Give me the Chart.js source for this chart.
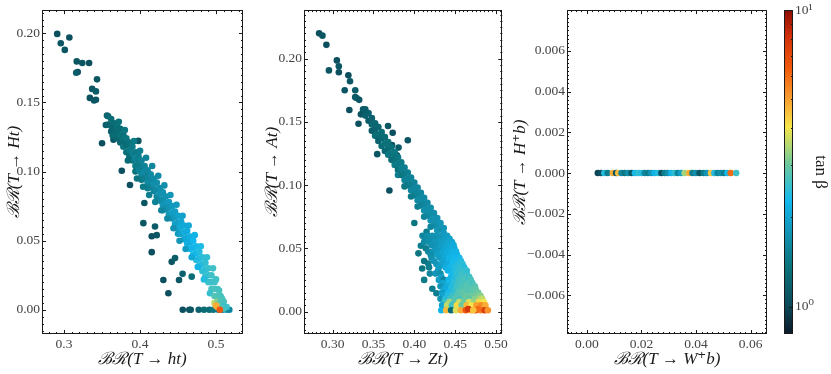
<!DOCTYPE html>
<html>
<head>
<meta charset="utf-8">
<script src="https://cdn.jsdelivr.net/npm/chart.js@4.4.1/dist/chart.umd.min.js"></script>
<style>
  body { margin: 0; background: #fff; }
  #wrap { position: relative; width: 831px; height: 374px; overflow: hidden; background: #fff; }
  canvas { position: absolute; top: 0; }
</style>
</head>
<body>
<div id="wrap">
  <canvas id="brHt" width="250" height="374" style="left:0"></canvas>
  <canvas id="brAt" width="252" height="374" style="left:258px"></canvas>
  <canvas id="brHc" width="266" height="374" style="left:506px"></canvas>
  <canvas id="cbar" width="56" height="374" style="left:775px"></canvas>
</div>
<script>
// each point: [BR on x axis, BR on y axis, tan beta]
const pointsHt = [
  [0.291,0.1996,1.05],[0.2957,0.1928,1.1],[0.307,0.197,1.05],[0.301,0.188,1.1],[0.3167,0.1797,1.1],
  [0.318,0.172,1.05],[0.316,0.1715,1.15],[0.324,0.1785,1.1],[0.333,0.1785,1.05],[0.3434,0.1667,1.1],
  [0.337,0.1598,1.1],[0.334,0.1533,1.05],[0.3395,0.1514,1.1],[0.342,0.158,1.15],[0.342,0.152,1.1],
  [0.35,0.1205,1.05],[0.355,0.1337,1.15],[0.3565,0.1406,1.2],[0.376,0.1006,1.05],[0.3978,0.1222,1.1],
  [0.3868,0.0903,1.05],[0.365,0.123,1.1],
  [0.4057,0.0773,1.1],[0.4044,0.0627,1.1],[0.4154,0.0532,1.05],[0.4154,0.0417,1.05],[0.4197,0.0603,1.15],
  [0.422,0.054,1.1],[0.4307,0.0216,1.05],[0.4373,0.012,1.05],[0.4417,0.0347,1.1],[0.4461,0.0374,1.15],
  [0.4513,0.0216,1.1],[0.456,0.026,1.2],[0.468,0.024,1.3],
  [0.4562,0,1.05],[0.4649,0,1.05],[0.4667,0,1.1],[0.4772,0,1.2],[0.4842,0,1.3],[0.4912,0,1.3],
  [0.4964,0,1.4],[0.503,0,1.5],[0.5088,0,1.6],[0.5141,0,1.8],[0.5175,0,1.6],
  [0.358,0.140,1.25],[0.358,0.134,1.2],
  [0.362,0.138,1.3],[0.362,0.133,1.25],[0.362,0.129,1.2],
  [0.366,0.135,1.3],[0.366,0.131,1.25],
  [0.370,0.133,1.35],[0.370,0.128,1.3],[0.370,0.124,1.25],
  [0.374,0.131,1.3],[0.374,0.126,1.35],[0.374,0.121,1.25],
  [0.378,0.127,1.35],[0.378,0.122,1.3],[0.378,0.118,1.4],
  [0.382,0.124,1.4],[0.382,0.119,1.3],[0.382,0.114,1.35],
  [0.386,0.121,1.35],[0.386,0.116,1.45],[0.386,0.111,1.3],
  [0.390,0.118,1.45],[0.390,0.113,1.5],[0.390,0.108,1.4],
  [0.394,0.114,1.45],[0.394,0.109,1.55],[0.394,0.104,1.45],[0.394,0.100,1.35],
  [0.398,0.111,1.5],[0.398,0.106,1.45],[0.398,0.101,1.55],
  [0.402,0.108,1.55],[0.402,0.103,1.5],[0.402,0.098,1.6],[0.402,0.094,1.45],
  [0.406,0.104,1.55],[0.406,0.100,1.65],[0.406,0.095,1.5],
  [0.410,0.101,1.6],[0.410,0.097,1.55],[0.410,0.092,1.65],[0.410,0.088,1.5],
  [0.414,0.098,1.65],[0.414,0.094,1.6],[0.414,0.089,1.55],
  [0.418,0.095,1.65],[0.418,0.091,1.7],[0.418,0.086,1.6],
  [0.422,0.092,1.7],[0.422,0.087,1.65],[0.422,0.082,1.6],
  [0.426,0.088,1.7],[0.426,0.084,1.75],[0.426,0.079,1.65],
  [0.430,0.085,1.75],[0.430,0.080,1.7],[0.430,0.076,1.8],[0.430,0.072,1.65],
  [0.434,0.082,1.75],[0.434,0.077,1.8],[0.434,0.073,1.7],
  [0.438,0.078,1.85],[0.438,0.074,1.75],[0.438,0.069,1.8],
  [0.442,0.075,1.85],[0.442,0.070,1.9],[0.442,0.066,1.8],
  [0.446,0.071,1.9],[0.446,0.067,1.85],[0.446,0.062,1.95],
  [0.450,0.068,1.95],[0.450,0.063,1.9],[0.450,0.059,2.0],[0.450,0.055,1.85],
  [0.454,0.064,2.0],[0.454,0.060,2.05],[0.454,0.055,1.95],
  [0.458,0.061,2.05],[0.458,0.056,2.1],[0.458,0.051,2.0],
  [0.462,0.057,2.1],[0.462,0.052,2.05],[0.462,0.048,2.15],
  [0.466,0.053,2.15],[0.466,0.049,2.1],[0.466,0.044,2.25],
  [0.470,0.050,2.25],[0.470,0.045,2.2],[0.470,0.040,2.3],
  [0.474,0.046,2.3],[0.474,0.041,2.25],[0.474,0.036,2.4],
  [0.478,0.042,2.4],[0.478,0.037,2.35],[0.478,0.032,2.45],
  [0.482,0.038,2.45],[0.482,0.033,2.4],[0.482,0.028,2.5],
  [0.486,0.034,2.5],[0.486,0.029,2.45],[0.486,0.024,2.55],
  [0.490,0.030,2.55],[0.490,0.025,2.5],[0.490,0.020,2.6],
  [0.494,0.025,2.6],[0.494,0.020,2.55],[0.494,0.015,2.65],
  [0.364,0.126,1.3],[0.372,0.136,1.35],[0.380,0.130,1.4],[0.384,0.108,1.3],[0.392,0.122,1.45],
  [0.396,0.095,1.4],[0.400,0.115,1.5],[0.404,0.089,1.45],[0.408,0.110,1.55],[0.412,0.083,1.5],
  [0.416,0.104,1.6],[0.420,0.078,1.55],[0.424,0.097,1.65],[0.428,0.072,1.6],[0.432,0.090,1.7],
  [0.436,0.066,1.65],[0.440,0.083,1.8],[0.444,0.059,1.75],[0.448,0.076,1.85],[0.452,0.050,1.8],
  [0.456,0.068,1.95],[0.460,0.044,1.9],[0.464,0.061,2.05],[0.468,0.038,2.05],[0.472,0.054,2.2],
  [0.476,0.031,2.2],[0.480,0.046,2.35],[0.484,0.022,2.4],[0.488,0.038,2.5],[0.492,0.012,2.55],
  [0.496,0.030,2.6],[0.500,0.022,2.6],[0.504,0.014,2.7],[0.508,0.008,2.7],
  [0.498,0.020,2.6],[0.498,0.015,2.7],[0.498,0.010,2.8],[0.498,0.005,3.6],
  [0.502,0.015,2.65],[0.502,0.010,2.75],[0.502,0.006,3.2],[0.502,0.002,4.6],
  [0.506,0.010,2.7],[0.506,0.006,2.8],[0.506,0.003,3.0],
  [0.510,0.006,2.7],[0.510,0.003,2.6],[0.510,0.001,2.8],
  [0.514,0.002,2.6],[0.500,0.003,4.8],[0.505,0.0,6.5]
];

const pointsAt = [
  [0.2835,0.2201,1.05],[0.2876,0.2183,1.1],[0.2924,0.211,1.05],[0.3052,0.1987,1.05],[0.3076,0.194,1.1],
  [0.3076,0.1893,1.05],[0.2955,0.1908,1.1],[0.3193,0.1869,1.05],[0.3213,0.1822,1.1],[0.3148,0.1751,1.1],
  [0.3277,0.1751,1.15],[0.3277,0.1696,1.1],[0.3293,0.169,1.15],[0.3325,0.1675,1.1],[0.3205,0.1594,1.05],
  [0.3373,0.16,1.1],[0.3373,0.158,1.15],[0.3346,0.156,1.1],[0.3317,0.1486,1.05],[0.3678,0.1468,1.1],
  [0.3735,0.1415,1.05],[0.3727,0.1318,1.1],[0.3695,0.0957,1.05],[0.392,0.1355,1.1],[0.3807,0.1297,1.15],
  [0.3787,0.1237,1.1],[0.3546,0.1245,1.1],
  [0.340,0.160,1.15],[0.340,0.155,1.2],
  [0.344,0.157,1.2],[0.344,0.151,1.15],
  [0.348,0.153,1.2],[0.348,0.148,1.25],[0.348,0.143,1.15],
  [0.352,0.149,1.25],[0.352,0.144,1.2],[0.352,0.139,1.3],
  [0.356,0.146,1.25],[0.356,0.140,1.3],[0.356,0.135,1.2],
  [0.360,0.142,1.3],[0.360,0.137,1.25],[0.360,0.131,1.3],
  [0.364,0.138,1.3],[0.364,0.133,1.35],[0.364,0.127,1.25],
  [0.368,0.134,1.35],[0.368,0.129,1.3],[0.368,0.124,1.4],
  [0.372,0.130,1.35],[0.372,0.125,1.4],[0.372,0.120,1.3],
  [0.376,0.126,1.4],[0.376,0.121,1.35],[0.376,0.116,1.45],
  [0.380,0.122,1.4],[0.380,0.117,1.45],[0.380,0.112,1.35],[0.380,0.108,1.5],
  [0.384,0.118,1.45],[0.384,0.113,1.5],[0.384,0.108,1.4],
  [0.388,0.114,1.5],[0.388,0.109,1.45],[0.388,0.104,1.55],[0.388,0.099,1.4],
  [0.392,0.110,1.5],[0.392,0.105,1.55],[0.392,0.100,1.45],
  [0.396,0.106,1.55],[0.396,0.101,1.5],[0.396,0.096,1.6],[0.396,0.091,1.45],
  [0.400,0.102,1.55],[0.400,0.097,1.6],[0.400,0.092,1.5],
  [0.404,0.098,1.6],[0.404,0.093,1.55],[0.404,0.088,1.65],[0.404,0.083,1.5],
  [0.408,0.094,1.6],[0.408,0.089,1.65],[0.408,0.084,1.55],
  [0.412,0.090,1.65],[0.412,0.085,1.6],[0.412,0.080,1.7],[0.412,0.075,1.55],
  [0.416,0.086,1.65],[0.416,0.081,1.7],[0.416,0.076,1.6],
  [0.420,0.082,1.7],[0.420,0.077,1.65],[0.420,0.072,1.75],[0.420,0.067,1.6],
  [0.424,0.078,1.7],[0.424,0.073,1.75],[0.424,0.068,1.65],
  [0.428,0.074,1.75],[0.428,0.069,1.7],[0.428,0.064,1.8],
  [0.432,0.070,1.8],[0.432,0.065,1.75],
  [0.436,0.066,1.8],[0.436,0.062,1.85],
  [0.4096,0.034,1.4],[0.4169,0.038,1.5],[0.412,0.025,1.45],[0.427,0.0145,1.5],[0.405,0.046,1.4],
  [0.408,0.052,1.5],[0.419,0.030,1.6],[0.422,0.018,1.5],[0.400,0.070,1.4],[0.415,0.063,1.5],
  [0.410,0.060,1.6],[0.416,0.060,1.7],[0.422,0.060,1.75],[0.428,0.060,1.8],[0.434,0.060,1.85],[0.440,0.060,1.9],
  [0.413,0.0575,1.65],[0.419,0.0575,1.7],[0.425,0.0575,1.75],[0.431,0.0575,1.8],[0.437,0.0575,1.9],[0.443,0.0575,1.95],
  [0.412,0.055,1.65],[0.418,0.055,1.7],[0.424,0.055,1.8],[0.430,0.055,1.85],[0.436,0.055,1.9],[0.442,0.055,2.0],[0.446,0.055,2.0],
  [0.421,0.0525,1.75],[0.427,0.0525,1.8],[0.433,0.0525,1.9],[0.439,0.0525,2.0],[0.445,0.0525,2.05],[0.448,0.0525,2.1],
  [0.414,0.050,1.5],[0.426,0.050,1.8],[0.432,0.050,1.9],[0.438,0.050,2.0],[0.444,0.050,2.1],[0.449,0.050,2.1],
  [0.417,0.0475,1.6],[0.423,0.0475,1.8],[0.429,0.0475,1.85],[0.435,0.0475,2.0],[0.441,0.0475,2.1],[0.447,0.0475,2.15],[0.451,0.0475,2.2],
  [0.420,0.045,1.7],[0.428,0.045,1.9],[0.434,0.045,2.0],[0.440,0.045,2.1],[0.446,0.045,2.2],[0.452,0.045,2.2],
  [0.421,0.0425,1.7],[0.431,0.0425,1.9],[0.437,0.0425,2.05],[0.443,0.0425,2.2],[0.449,0.0425,2.25],[0.455,0.0425,2.3],
  [0.412,0.040,1.4],[0.424,0.040,1.8],[0.436,0.040,2.0],[0.442,0.040,2.2],[0.448,0.040,2.3],[0.454,0.040,2.3],[0.457,0.040,2.4],
  [0.427,0.0375,1.8],[0.433,0.0375,1.95],[0.441,0.0375,2.1],[0.447,0.0375,2.3],[0.453,0.0375,2.4],[0.459,0.0375,2.45],
  [0.418,0.035,1.5],[0.430,0.035,1.9],[0.438,0.035,2.1],[0.444,0.035,2.3],[0.450,0.035,2.4],[0.456,0.035,2.5],[0.461,0.035,2.4],
  [0.429,0.0325,1.85],[0.441,0.0325,2.2],[0.449,0.0325,2.4],[0.455,0.0325,2.5],[0.461,0.0325,2.55],[0.464,0.0325,2.5],
  [0.426,0.030,1.8],[0.432,0.030,1.7],[0.446,0.030,2.3],[0.452,0.030,2.5],[0.458,0.030,2.6],[0.464,0.030,2.5],
  [0.433,0.0275,1.9],[0.445,0.0275,2.3],[0.451,0.0275,2.45],[0.457,0.0275,2.6],[0.463,0.0275,2.65],[0.467,0.0275,2.6],
  [0.430,0.025,1.9],[0.436,0.025,1.6],[0.442,0.025,2.2],[0.448,0.025,2.4],[0.454,0.025,2.6],[0.460,0.025,2.7],[0.466,0.025,2.6],[0.469,0.025,2.7],
  [0.435,0.0225,2.0],[0.443,0.0225,2.3],[0.449,0.0225,2.5],[0.455,0.0225,2.65],[0.461,0.0225,2.7],[0.467,0.0225,2.75],[0.471,0.0225,2.7],
  [0.432,0.020,1.8],[0.440,0.020,2.1],[0.446,0.020,2.4],[0.452,0.020,2.6],[0.458,0.020,2.7],[0.464,0.020,2.8],[0.470,0.020,2.7],[0.474,0.020,2.8],
  [0.437,0.0175,2.1],[0.445,0.0175,2.4],[0.451,0.0175,2.6],[0.457,0.0175,2.75],[0.463,0.0175,2.8],[0.469,0.0175,2.85],[0.475,0.0175,2.9],
  [0.434,0.015,1.9],[0.442,0.015,2.3],[0.448,0.015,2.5],[0.454,0.015,2.8],[0.460,0.015,2.9],[0.466,0.015,2.8],[0.472,0.015,2.9],[0.478,0.015,3.0],
  [0.435,0.0125,2.0],[0.441,0.0125,2.4],[0.447,0.0125,2.6],[0.453,0.0125,2.8],[0.459,0.0125,2.9],[0.465,0.0125,3.0],[0.471,0.0125,3.0],[0.477,0.0125,3.1],[0.481,0.0125,3.2],
  [0.432,0.010,1.8],[0.438,0.010,2.4],[0.444,0.010,2.6],[0.450,0.010,2.8],[0.456,0.010,2.7],[0.462,0.010,3.0],[0.468,0.010,2.9],[0.474,0.010,3.2],[0.480,0.010,3.4],[0.483,0.010,3.6],
  [0.437,0.0075,2.6],[0.443,0.0075,3.4],[0.449,0.0075,2.8],[0.455,0.0075,3.6],[0.461,0.0075,3.0],[0.467,0.0075,3.8],[0.473,0.0075,3.3],[0.479,0.0075,4.2],[0.485,0.0075,4.0],
  [0.434,0.005,2.0],[0.440,0.005,3.6],[0.446,0.005,2.6],[0.452,0.005,4.2],[0.458,0.005,3.0],[0.464,0.005,4.6],[0.470,0.005,4.0],[0.476,0.005,5.0],[0.482,0.005,5.4],[0.487,0.005,4.8],
  [0.433,0.001,2.2],[0.439,0.001,4.6],[0.445,0.001,1.3],[0.451,0.001,3.8],[0.457,0.001,4.8],[0.463,0.001,6.5],[0.469,0.001,5.0],[0.475,0.001,7.0],[0.481,0.001,5.5],[0.486,0.001,7.5],[0.490,0.001,5.2],
  [0.466,0.002,8.0],[0.478,0.002,6.0],[0.472,0.001,4.5]
];

const pointsHc = [
  [0.0040,0,1.0],[0.0052,0,1.05],[0.0064,0,2.4],[0.0076,0,1.5],[0.0095,0,4.8],[0.0107,0,1.1],
  [0.0115,0,4.6],[0.0127,0,1.6],[0.0139,0,1.4],[0.0151,0,1.7],[0.0164,0,1.1],[0.0176,0,2.3],
  [0.0188,0,2.5],[0.0200,0,2.4],[0.0212,0,1.6],[0.0224,0,1.5],[0.0236,0,1.8],[0.0248,0,2.2],
  [0.0261,0,2.4],[0.0273,0,1.05],[0.0285,0,1.5],[0.0297,0,1.7],[0.0309,0,2.2],[0.0321,0,2.5],
  [0.0333,0,1.6],[0.0345,0,1.9],[0.0358,0,3.4],[0.0375,0,4.8],[0.0387,0,1.5],[0.0399,0,1.7],
  [0.0413,0,1.1],[0.0428,0,1.5],[0.0440,0,1.8],[0.0455,0,4.5],[0.0467,0,2.4],[0.0479,0,1.6],
  [0.0491,0,1.7],[0.0503,0,1.5],[0.0515,0,2.3],[0.0527,0,6.0],[0.0547,0,2.6]
];

const ticksHtX = [0.3, 0.4, 0.5];
const ticksHtY = [0, 0.05, 0.10, 0.15, 0.20];
const ticksAtX = [0.30, 0.35, 0.40, 0.45, 0.50];
const ticksAtY = [0, 0.05, 0.10, 0.15, 0.20];
const ticksHcX = [0, 0.02, 0.04, 0.06];
const ticksHcY = [-0.006, -0.004, -0.002, 0, 0.002, 0.004, 0.006];
const tanbRange = [0.808, 10];
const tanbTicks = [1, 10];
const tanbLabels = ['10⁰', '10¹'];

const cmapStops = [
  [0.00, '#0b1a29'], [0.10, '#0c4e5e'], [0.21, '#0a737b'], [0.31, '#1292b2'],
  [0.41, '#12b8ee'], [0.525, '#6ec89c'], [0.64, '#f7e64a'], [0.72, '#f8a232'],
  [0.82, '#f05a0c'], [0.92, '#d0300a'], [1.00, '#8c0c02']
];

const SERIF = "'Liberation Serif', 'DejaVu Serif', serif";
const INK = '#1a1a1a';

function rgb(hex) {
  return [1, 3, 5].map(i => parseInt(hex.slice(i, i + 2), 16));
}

function cmap(t) {
  const lo = Math.log10(tanbRange[0]), hi = Math.log10(tanbRange[1]);
  const f = Math.min(1, Math.max(0, (Math.log10(t) - lo) / (hi - lo)));
  for (let i = 1; i < cmapStops.length; i++) {
    if (f <= cmapStops[i][0]) {
      const [f0, c0] = cmapStops[i - 1], [f1, c1] = cmapStops[i];
      const k = (f - f0) / (f1 - f0);
      const a = rgb(c0), b = rgb(c1);
      return 'rgb(' + a.map((v, j) => Math.round(v + (b[j] - v) * k)).join(',') + ')';
    }
  }
  return cmapStops[cmapStops.length - 1][1];
}

function fmt(v, digits) {
  return v.toFixed(digits).replace('-', '\u2212');
}

function minorValues(min, max, step) {
  const out = [];
  for (let k = Math.ceil(min / step - 1e-9); k * step <= max + 1e-12; k++) out.push(k * step);
  return out;
}

// matplotlib style: frame plus inward ticks on all four sides
const frameTicks = {
  id: 'frameTicks',
  afterDraw(chart, args, o) {
    const { ctx, chartArea: a } = chart;
    const sx = chart.scales.x, sy = chart.scales.y;
    ctx.save();
    ctx.strokeStyle = INK;
    ctx.lineWidth = 1;
    ctx.beginPath();
    const xMark = (v, len) => {
      const p = Math.round(sx.getPixelForValue(v)) + 0.5;
      if (p < a.left || p > a.right) return;
      ctx.moveTo(p, a.bottom); ctx.lineTo(p, a.bottom - len);
      ctx.moveTo(p, a.top); ctx.lineTo(p, a.top + len);
    };
    const yMark = (v, len) => {
      const p = Math.round(sy.getPixelForValue(v)) + 0.5;
      if (p < a.top || p > a.bottom) return;
      ctx.moveTo(a.left, p); ctx.lineTo(a.left + len, p);
      ctx.moveTo(a.right, p); ctx.lineTo(a.right - len, p);
    };
    minorValues(sx.min, sx.max, o.xMinor).forEach(v => xMark(v, 2));
    minorValues(sy.min, sy.max, o.yMinor).forEach(v => yMark(v, 2));
    o.xMajor.forEach(v => xMark(v, 4));
    o.yMajor.forEach(v => yMark(v, 4));
    ctx.stroke();
    ctx.strokeRect(Math.round(a.left) + 0.5, Math.round(a.top) + 0.5,
      Math.round(a.right - a.left) - 1, Math.round(a.bottom - a.top) - 1);
    ctx.restore();
  }
};

function makePanel(id, points, cfg) {
  return new Chart(document.getElementById(id), {
    type: 'scatter',
    data: {
      datasets: [{
        data: points.map(p => ({ x: p[0], y: p[1] })),
        pointBackgroundColor: points.map(p => cmap(p[2])),
        pointBorderWidth: 0,
        pointRadius: 3.3,
        pointHoverRadius: 3.3
      }]
    },
    options: {
      responsive: false,
      animation: false,
      events: [],
      layout: { padding: { top: 8, right: cfg.padRight, bottom: 0, left: 0 } },
      plugins: {
        legend: { display: false },
        tooltip: { enabled: false },
        frameTicks: { xMajor: cfg.xTicks, yMajor: cfg.yTicks, xMinor: cfg.xMinor, yMinor: cfg.yMinor }
      },
      scales: {
        x: {
          type: 'linear', min: cfg.xRange[0], max: cfg.xRange[1],
          afterBuildTicks: s => { s.ticks = cfg.xTicks.map(v => ({ value: v })); },
          afterFit: s => { s.height = 40; },
          grid: { display: false, drawTicks: false }, border: { display: false },
          ticks: { autoSkip: false, maxRotation: 0, padding: 2, color: '#444',
                   font: { family: SERIF, size: 13.5 }, callback: v => fmt(v, cfg.xDigits) },
          title: { display: true, text: cfg.xTitle, color: INK, padding: { top: 4, bottom: 4 },
                   font: { family: SERIF, size: 17, style: 'italic' } }
        },
        y: {
          type: 'linear', min: cfg.yRange[0], max: cfg.yRange[1],
          afterBuildTicks: s => { s.ticks = cfg.yTicks.map(v => ({ value: v })); },
          afterFit: s => { s.width = cfg.yWidth; },
          grid: { display: false, drawTicks: false }, border: { display: false },
          ticks: { autoSkip: false, padding: 2, color: '#444',
                   font: { family: SERIF, size: 13.5 }, callback: v => fmt(v, cfg.yDigits) },
          title: { display: true, text: cfg.yTitle, color: INK, padding: { top: 4, bottom: 4 },
                   font: { family: SERIF, size: 17, style: 'italic' } }
        }
      }
    },
    plugins: [frameTicks]
  });
}

makePanel('brHt', pointsHt, {
  xRange: [0.271, 0.5355], yRange: [-0.0175, 0.2168],
  xTicks: ticksHtX, yTicks: ticksHtY, xMinor: 0.01, yMinor: 0.005,
  xDigits: 1, yDigits: 2, yWidth: 42, padRight: 7,
  xTitle: 'ℬℛ(T → ht)', yTitle: 'ℬℛ(T → Ht)'
});

makePanel('brAt', pointsAt, {
  xRange: [0.265, 0.5076], yRange: [-0.0178, 0.2385],
  xTicks: ticksAtX, yTicks: ticksAtY, xMinor: 0.005, yMinor: 0.005,
  xDigits: 2, yDigits: 2, yWidth: 46, padRight: 4,
  xTitle: 'ℬℛ(T → Zt)', yTitle: 'ℬℛ(T → At)'
});

makePanel('brHc', pointsHc, {
  xRange: [-0.0073, 0.066], yRange: [-0.0079, 0.0080],
  xTicks: ticksHcX, yTicks: ticksHcY, xMinor: 0.002, yMinor: 0.0002,
  xDigits: 2, yDigits: 3, yWidth: 61, padRight: 5,
  xTitle: 'ℬℛ(T → W⁺b)', yTitle: 'ℬℛ(T → H⁺b)'
});

// colour bar: gradient in the chart area, log axis on the right
const colorbarFill = {
  id: 'colorbarFill',
  beforeDatasetsDraw(chart) {
    const { ctx, chartArea: a } = chart;
    const g = ctx.createLinearGradient(0, a.bottom, 0, a.top);
    cmapStops.forEach(s => g.addColorStop(s[0], s[1]));
    ctx.save();
    ctx.fillStyle = g;
    ctx.fillRect(a.left, a.top, a.right - a.left, a.bottom - a.top);
    const sy = chart.scales.y;
    ctx.strokeStyle = INK;
    ctx.lineWidth = 1;
    ctx.beginPath();
    [0.9, 2, 3, 4, 5, 6, 7, 8, 9].forEach(v => {
      const p = Math.round(sy.getPixelForValue(v)) + 0.5;
      ctx.moveTo(a.right, p); ctx.lineTo(a.right - 2, p);
    });
    tanbTicks.forEach(v => {
      const p = Math.round(sy.getPixelForValue(v)) + 0.5;
      ctx.moveTo(a.right, p); ctx.lineTo(a.right - 4, p);
    });
    ctx.stroke();
    ctx.strokeRect(a.left + 0.5, a.top + 0.5, a.right - a.left - 1, a.bottom - a.top - 1);
    ctx.restore();
  }
};

new Chart(document.getElementById('cbar'), {
  type: 'scatter',
  data: { datasets: [{ data: [] }] },
  options: {
    responsive: false,
    animation: false,
    events: [],
    layout: { padding: { top: 8, right: 0, bottom: 40, left: 9 } },
    plugins: { legend: { display: false }, tooltip: { enabled: false } },
    scales: {
      x: { display: false, min: 0, max: 1 },
      y: {
        type: 'logarithmic', position: 'right', min: tanbRange[0], max: tanbRange[1],
        afterBuildTicks: s => { s.ticks = tanbTicks.map(v => ({ value: v })); },
        afterFit: s => { s.width = 38; },
        grid: { display: false, drawTicks: false }, border: { display: false },
        ticks: { autoSkip: false, padding: 2, color: '#444', font: { family: SERIF, size: 13.5 },
                 callback: v => tanbLabels[tanbTicks.indexOf(v)] || '' },
        title: { display: true, text: 'tan β', color: INK, padding: { top: 0, bottom: 0 },
                 font: { family: SERIF, size: 17 } }
      }
    }
  },
  plugins: [colorbarFill]
});
</script>
</body>
</html>
